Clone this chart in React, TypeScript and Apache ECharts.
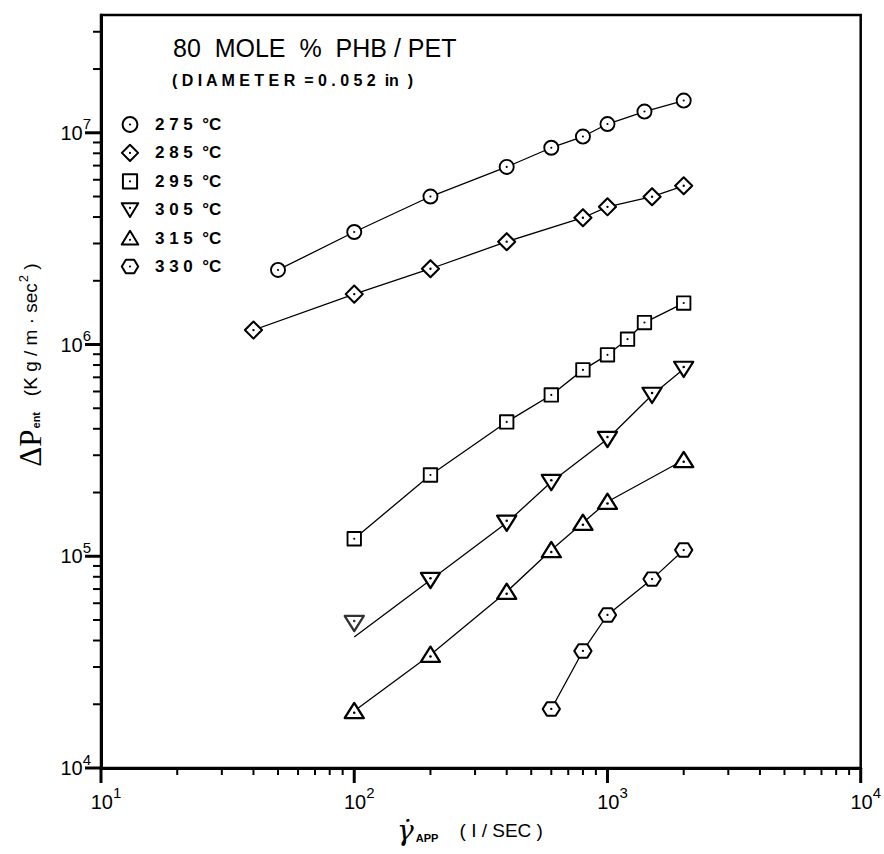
import React, { useEffect, useRef } from 'react';
import * as echarts from 'echarts';

// ---- data ----
const seriesNames = ['275 °C', '285 °C', '295 °C', '305 °C', '315 °C', '330 °C'];

const x275 = [50, 100, 200, 400, 600, 800, 1000, 1400, 2000];
const y275 = [2.25e6, 3.4e6, 5.0e6, 6.9e6, 8.5e6, 9.6e6, 1.1e7, 1.26e7, 1.42e7];

const x285 = [40, 100, 200, 400, 800, 1000, 1500, 2000];
const y285 = [1.17e6, 1.73e6, 2.28e6, 3.06e6, 3.97e6, 4.47e6, 4.99e6, 5.62e6];

const x295 = [100, 200, 400, 600, 800, 1000, 1200, 1400, 2000];
const y295 = [1.21e5, 2.42e5, 4.31e5, 5.78e5, 7.59e5, 8.94e5, 1.06e6, 1.27e6, 1.57e6];

const x305 = [100, 200, 400, 600, 1000, 1500, 2000];
const y305 = [4.84e4, 7.72e4, 1.44e5, 2.24e5, 3.58e5, 5.78e5, 7.67e5];
const y305LineStart = 4.16e4; // fitted line starts below the first marker at x = 100

const x315 = [100, 200, 400, 600, 800, 1000, 2000];
const y315 = [1.86e4, 3.43e4, 6.8e4, 1.07e5, 1.44e5, 1.81e5, 2.85e5];

const x330 = [600, 800, 1000, 1500, 2000];
const y330 = [1.9e4, 3.57e4, 5.28e4, 7.8e4, 1.07e5];

const xMajorTicks = [10, 100, 1000, 10000];
const xMinorTicks = [20, 30, 40, 50, 60, 70, 80, 90, 200, 300, 400, 500, 600, 700, 800, 900, 2000, 3000, 4000, 5000, 6000, 7000, 8000, 9000];
const yMajorTicks = [1e4, 1e5, 1e6, 1e7];
const yMinorTicks = [2e4, 3e4, 4e4, 5e4, 6e4, 7e4, 8e4, 9e4, 2e5, 3e5, 4e5, 5e5, 6e5, 7e5, 8e5, 9e5, 2e6, 3e6, 4e6, 5e6, 6e6, 7e6, 8e6, 9e6, 2e7, 3e7];

const X_MIN = 10;
const X_MAX = 10000;
const Y_MIN = 1e4;
const Y_MAX = 3.6e7;

// ---- marker images ----
const img = (svg: string) => 'image://data:image/svg+xml;charset=utf-8,' + encodeURIComponent(svg);
const wrap = (inner: string, dotY = 11) =>
  `<svg xmlns='http://www.w3.org/2000/svg' width='22' height='22' viewBox='0 0 22 22'>${inner}<circle cx='11' cy='${dotY}' r='1.3' fill='black'/></svg>`;
const S = "fill='white' stroke='black' stroke-width='2.3' stroke-linejoin='round'";
const symbols = [
  img(wrap(`<circle cx='11' cy='11' r='8.6' ${S}/>`)),
  img(wrap(`<polygon points='11,1.6 20.4,11 11,20.4 1.6,11' ${S}/>`)),
  img(wrap(`<rect x='2.8' y='2.8' width='16.4' height='16.4' ${S}/>`)),
  img(wrap(`<polygon points='1.4,3.5 20.6,3.5 11,19.5' ${S}/>`, 9)),
  img(wrap(`<polygon points='11,2.5 20.6,18.5 1.4,18.5' ${S}/>`, 13)),
  img(wrap(`<polygon points='1.5,11 6.2,3.2 15.8,3.2 20.5,11 15.8,18.8 6.2,18.8' ${S}/>`)),
];
const symbolSizes: any[] = [18, 20, 18, [22, 21], [22, 21], [20, 19]];

const zip = (xs: number[], ys: number[]) => xs.map((x, i) => [x, ys[i]]);

const supLabel = (v: number) => {
  const e = Math.log10(v);
  const r = Math.round(e);
  if (Math.abs(e - r) > 1e-6) return '';
  return `{b|10}{s|${r}}`;
};

const FONT = 'Liberation Sans, DejaVu Sans, sans-serif';

export default function App() {
  const ref = useRef<HTMLDivElement>(null);

  useEffect(() => {
    document.body.style.margin = '0';
    if (!ref.current) return;
    const chart = echarts.init(ref.current, undefined, { renderer: 'svg' });

    const lineStyle = { color: '#000', width: 1.3 };
    const allData = [
      zip(x275, y275),
      zip(x285, y285),
      zip(x295, y295),
      zip(x305, y305),
      zip(x315, y315),
      zip(x330, y330),
    ];

    const lineSeries: any[] = allData.map((d, i) => {
      let data: any[] = d;
      if (i === 3) {
        data = d.map((p, j) => (j === 0 ? { value: [p[0], y305LineStart], symbol: 'none' } : p));
      }
      return {
        type: 'line',
        name: seriesNames[i],
        data,
        symbol: symbols[i],
        symbolSize: symbolSizes[i],
        showAllSymbol: true,
        lineStyle,
        itemStyle: { color: '#000' },
        z: 3,
        silent: true,
      };
    });

    // first 305 °C marker (sits above the fitted line's start)
    lineSeries.push({
      type: 'scatter',
      name: seriesNames[3],
      data: [[x305[0], y305[0]]],
      symbol: symbols[3],
      symbolSize: symbolSizes[3],
      itemStyle: { color: '#000' },
      z: 3,
      silent: true,
    });

    const yTickData = [
      ...yMajorTicks.map((v) => [X_MIN, v, 1]),
      ...yMinorTicks.map((v) => [X_MIN, v, 0]),
    ];
    const xTickData = [
      ...xMajorTicks.map((v) => [v, Y_MIN, 1]),
      ...xMinorTicks.map((v) => [v, Y_MIN, 0]),
    ];

    const tickSeries = [
      {
        type: 'custom',
        name: 'yticks',
        data: yTickData,
        clip: false,
        silent: true,
        z: 5,
        renderItem: (_p: any, api: any) => {
          const c = api.coord([api.value(0), api.value(1)]);
          const major = api.value(2) === 1;
          const len = major ? 16 : 8;
          return {
            type: 'line',
            shape: { x1: c[0], y1: c[1], x2: c[0] - len, y2: c[1] },
            style: { stroke: '#000', lineWidth: major ? 3 : 2 },
          };
        },
      },
      {
        type: 'custom',
        name: 'xticks',
        data: xTickData,
        clip: false,
        silent: true,
        z: 5,
        renderItem: (_p: any, api: any) => {
          const c = api.coord([api.value(0), api.value(1)]);
          const major = api.value(2) === 1;
          const len = major ? 15 : 7;
          return {
            type: 'line',
            shape: { x1: c[0], y1: c[1], x2: c[0], y2: c[1] + len },
            style: { stroke: '#000', lineWidth: major ? 3 : 2 },
          };
        },
      },
    ];

    const option: any = {
      animation: false,
      backgroundColor: '#fff',
      grid: {
        left: 101,
        right: 19,
        top: 15,
        bottom: 86,
        show: true,
        borderColor: '#000',
        borderWidth: 2.5,
        backgroundColor: 'transparent',
      },
      legend: {
        orient: 'vertical',
        left: 115,
        top: 110,
        itemWidth: 20,
        itemHeight: 19,
        itemGap: 9.4,
        selectedMode: false,
        data: seriesNames.map((n, i) => ({ name: n, icon: symbols[i] })),
        formatter: (n: string) => n.replace(/(\d)(?=\d)/g, '$1 ').replace(' °', '  °'),
        textStyle: {
          fontFamily: FONT,
          fontSize: 17,
          fontWeight: 'bold',
          color: '#000',
          padding: [0, 0, 0, 10],
        },
      },
      xAxis: {
        type: 'log',
        logBase: 10,
        min: X_MIN,
        max: X_MAX,
        axisLine: { show: true, lineStyle: { color: '#000', width: 3 } },
        axisTick: { show: false },
        splitLine: { show: false },
        minorTick: { show: false },
        axisLabel: {
          margin: 17,
          formatter: supLabel,
          rich: {
            b: { fontFamily: FONT, fontSize: 20, color: '#000', padding: [0, 0, 0, 10] },
            s: { fontFamily: FONT, fontSize: 15, color: '#000', padding: [0, 0, 18, 0] },
          },
        },
      },
      yAxis: {
        type: 'log',
        logBase: 10,
        min: Y_MIN,
        max: Y_MAX,
        axisLine: { show: true, lineStyle: { color: '#000', width: 3 } },
        axisTick: { show: false },
        splitLine: { show: false },
        minorTick: { show: false },
        axisLabel: {
          margin: 10,
          formatter: supLabel,
          rich: {
            b: { fontFamily: FONT, fontSize: 20, color: '#000' },
            s: { fontFamily: FONT, fontSize: 15, color: '#000', padding: [0, 0, 18, 0] },
          },
        },
      },
      graphic: [
        {
          type: 'text',
          left: 173,
          top: 35,
          silent: true,
          style: {
            text: '80  MOLE  %  PHB / PET',
            fontFamily: FONT,
            fontSize: 25,
            fill: '#000',
          },
        },
        {
          type: 'text',
          left: 172,
          top: 72,
          silent: true,
          style: {
            text: '( D I A M E T E R  = 0 . 0 5 2  in  )',
            fontFamily: FONT,
            fontSize: 16,
            fontWeight: 'bold',
            fill: '#000',
          },
        },
        {
          type: 'text',
          x: 30,
          y: 365,
          rotation: Math.PI / 2,
          silent: true,
          style: {
            text: '{d|ΔP}{e|ent}{k|   (K g / m · sec}{p|2}{k| )}',
            align: 'center',
            verticalAlign: 'middle',
            rich: {
              d: { fontFamily: 'Liberation Serif, DejaVu Serif, serif', fontSize: 31, fill: '#000' },
              e: { fontFamily: FONT, fontSize: 11, fontWeight: 'bold', fill: '#000', padding: [12, 0, 0, 1] },
              k: { fontFamily: FONT, fontSize: 19, fill: '#000' },
              p: { fontFamily: FONT, fontSize: 13, fill: '#000', padding: [0, 0, 14, 1] },
            },
          },
        },
        {
          type: 'text',
          x: 470,
          y: 830,
          silent: true,
          style: {
            text: '{g|γ̇}{s|APP}{t|    ( I / SEC )}',
            align: 'center',
            verticalAlign: 'middle',
            rich: {
              g: { fontFamily: 'DejaVu Serif, serif', fontSize: 28, fontStyle: 'italic', fill: '#000' },
              s: { fontFamily: FONT, fontSize: 11, fontWeight: 'bold', fill: '#000', padding: [16, 0, 0, 2] },
              t: { fontFamily: FONT, fontSize: 19, fill: '#000' },
            },
          },
        },
      ],
      series: [...lineSeries, ...tickSeries],
    };

    chart.setOption(option);
    return () => {
      chart.dispose();
    };
  }, []);

  return <div ref={ref} style={{ width: 884, height: 854 }} />;
}
